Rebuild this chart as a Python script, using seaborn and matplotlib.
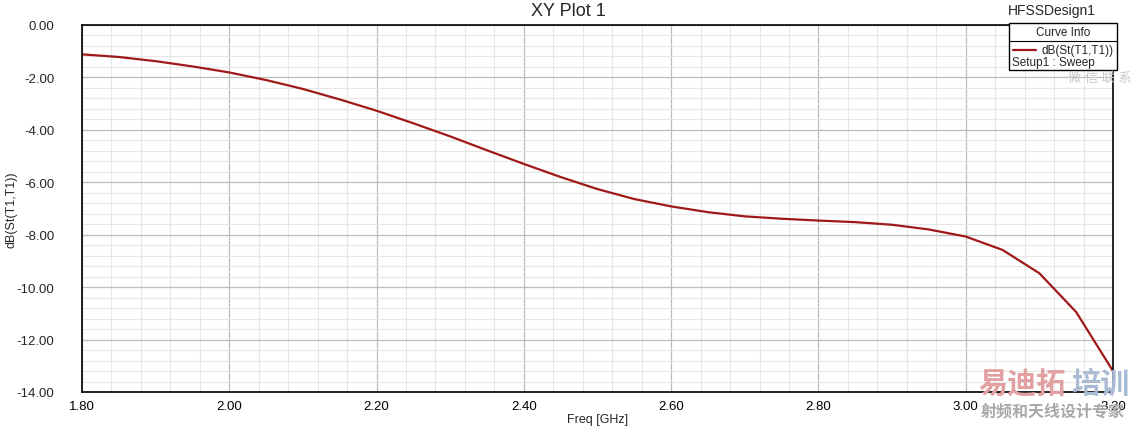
import numpy as np
import pandas as pd
import matplotlib
matplotlib.use("Agg")
import matplotlib.pyplot as plt
from matplotlib.ticker import MultipleLocator, FormatStrFormatter
from matplotlib.patches import Rectangle
from matplotlib.lines import Line2D
import seaborn as sns

# sweep values
freq_ghz = [1.80, 1.85, 1.90, 1.95, 2.00, 2.05, 2.10, 2.15, 2.20, 2.25,
            2.30, 2.35, 2.40, 2.45, 2.50, 2.55, 2.60, 2.65, 2.70, 2.75,
            2.80, 2.85, 2.90, 2.95, 3.00, 3.05, 3.10, 3.15, 3.20]
s11_db = [-1.12, -1.22, -1.38, -1.58, -1.81, -2.10, -2.44, -2.84, -3.27, -3.75,
          -4.25, -4.78, -5.30, -5.80, -6.26, -6.64, -6.92, -7.14, -7.30, -7.39,
          -7.46, -7.52, -7.62, -7.80, -8.07, -8.58, -9.47, -10.95, -13.20]

df = pd.DataFrame({"Freq": freq_ghz, "dB": s11_db})

sns.set_style("white")
plt.rcParams["font.family"] = ["Liberation Sans", "Noto Sans CJK SC", "DejaVu Sans"]

fig = plt.figure(figsize=(11.36, 4.27), dpi=100)
ax = fig.add_axes([82/1136, 1-393/427, (1113-82)/1136, (393-26)/427])

sns.lineplot(data=df, x="Freq", y="dB", ax=ax, color="#a01818", linewidth=1.6)

ax.set_xlim(1.80, 3.20)
ax.set_ylim(-14, 0)
ax.xaxis.set_major_locator(MultipleLocator(0.2))
ax.xaxis.set_minor_locator(MultipleLocator(0.04))
ax.yaxis.set_major_locator(MultipleLocator(2))
ax.yaxis.set_minor_locator(MultipleLocator(0.4))
ax.xaxis.set_major_formatter(FormatStrFormatter("%.2f"))
ax.yaxis.set_major_formatter(FormatStrFormatter("%.2f"))

ax.grid(which="major", color="#bdbdbd", linewidth=0.9)
ax.grid(which="minor", color="#e6e6e6", linewidth=0.8)
ax.set_axisbelow(True)

ax.tick_params(axis="x", which="major", length=0, pad=6, labelsize=9.5, colors="black")
ax.tick_params(axis="x", which="minor", length=4, width=1, direction="out", colors="black")
ax.tick_params(axis="y", which="major", length=17, width=1, direction="out", pad=3, labelsize=9.5)
ax.tick_params(axis="y", which="minor", length=9, width=1, direction="out")
for s in ax.spines.values():
    s.set_color("black")
    s.set_linewidth(1.2)

ax.set_xlabel("Freq [GHz]", fontsize=9)
ax.set_ylabel("dB(St(T1,T1))", fontsize=9)
ax.xaxis.set_label_coords(0.5, -0.058)
ax.yaxis.set_label_coords((18-82)/1031, 0.5)

fig.text(0.5, 1-12/427, "XY Plot 1", ha="center", va="center", fontsize=13)
fig.text(1052/1136, 1-11/427, "HFSSDesign1", ha="center", va="center", fontsize=10)

# legend box (Curve Info)
bx0, bx1, by0, by1 = 1009, 1117, 24, 71
fig.patches.append(Rectangle((bx0/1136, 1-by1/427), (bx1-bx0)/1136, (by1-by0)/427,
                             transform=fig.transFigure, facecolor="white",
                             edgecolor="black", linewidth=1, zorder=5))
fig.lines.append(Line2D([bx0/1136, bx1/1136], [1-42/427, 1-42/427],
                        transform=fig.transFigure, color="black", linewidth=0.8, zorder=6))
fig.text(1063/1136, 1-33/427, "Curve Info", ha="center", va="center", fontsize=8.5, zorder=7)
fig.lines.append(Line2D([1013/1136, 1036/1136], [1-51/427, 1-51/427],
                        transform=fig.transFigure, color="#a01818", linewidth=1.6, zorder=6))
fig.text(1114/1136, 1-51/427, "dB(St(T1,T1))", ha="right", va="center", fontsize=8.5, zorder=7)
fig.text(1012/1136, 1-63/427, "Setup1 : Sweep", ha="left", va="center", fontsize=8.5, zorder=7)
fig.text(1100/1136, 1-79/427, "微 信 联 系", ha="center", va="center", fontsize=9.5,
         color="#c8c8c8", zorder=7)

# watermark
fig.text(978/1136, 1-385/427, "易迪拓", ha="left", va="center", fontsize=21,
         fontweight="bold", color="#e2a0a0", zorder=8)
fig.text(1129/1136, 1-385/427, "培训", ha="right", va="center", fontsize=21,
         fontweight="bold", color="#a9bad3", zorder=8)
fig.text(1053/1136, 1-412/427, "射频和天线设计专家", ha="center", va="center", fontsize=11.5,
         fontweight="bold", color="#a8a8a8", zorder=8)

fig.savefig("out.png", dpi=100)
